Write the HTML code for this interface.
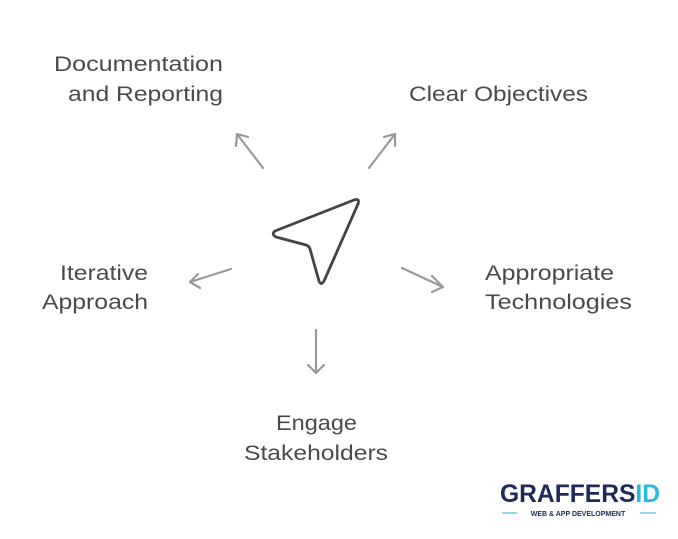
<!DOCTYPE html>
<html><head><style>
body{margin:0;background:#fff;}
svg text{font-family:"Liberation Sans",Arial,sans-serif;font-size:21.5px;fill:#4a4a4a;}
</style></head><body>
<svg width="678" height="534" viewBox="0 0 678 534" xmlns="http://www.w3.org/2000/svg">
<g stroke="#999" stroke-width="2.2" fill="none" stroke-linecap="round" stroke-linejoin="round">
<line x1="263" y1="168" x2="237" y2="134"/><polyline points="236,146 237,134 248,137"/>
<line x1="369" y1="168" x2="395" y2="134"/><polyline points="384,137 395,134 395,146"/>
<line x1="231" y1="269" x2="190" y2="282"/><polyline points="198,274 190,282 200,288"/>
<line x1="402" y1="268" x2="443" y2="287"/><polyline points="432,276 443,287 432,292"/>
<line x1="316" y1="330" x2="316" y2="373"/><polyline points="308,365 316,373 324,365"/>
</g>
<path d="M275,231 Q271,234 276,237 L306,245 Q309,246 310,249 L319,281 Q321,286 324,281 L358,204 Q360,198 354,200 Z" fill="none" stroke="#444" stroke-width="2.8" stroke-linejoin="round"/>
<g>
<text x="54" y="71" textLength="169" lengthAdjust="spacingAndGlyphs">Documentation</text>
<text x="68" y="101" textLength="155" lengthAdjust="spacingAndGlyphs">and Reporting</text>
<text x="409" y="101" textLength="179" lengthAdjust="spacingAndGlyphs">Clear Objectives</text>
<text x="60" y="280" textLength="88" lengthAdjust="spacingAndGlyphs">Iterative</text>
<text x="42" y="309" textLength="106" lengthAdjust="spacingAndGlyphs">Approach</text>
<text x="485" y="280" textLength="129" lengthAdjust="spacingAndGlyphs">Appropriate</text>
<text x="485" y="309" textLength="147" lengthAdjust="spacingAndGlyphs">Technologies</text>
<text x="276" y="430" textLength="81" lengthAdjust="spacingAndGlyphs">Engage</text>
<text x="244" y="460" textLength="144" lengthAdjust="spacingAndGlyphs">Stakeholders</text>
</g>
<text x="500" y="502" textLength="160" lengthAdjust="spacingAndGlyphs" style="font-size:25px;font-weight:bold;fill:#1f2a5a">GRAFFERS<tspan style="fill:#2ab7e0">ID</tspan></text>
<line x1="502" y1="513" x2="517" y2="513" stroke="#2ab7e0" stroke-width="1"/>
<line x1="640" y1="513" x2="656" y2="513" stroke="#2ab7e0" stroke-width="1"/>
<text x="578" y="516" text-anchor="middle" style="font-size:7px;font-weight:bold;fill:#1f2a5a">WEB &amp; APP DEVELOPMENT</text>
</svg>
</body></html>
